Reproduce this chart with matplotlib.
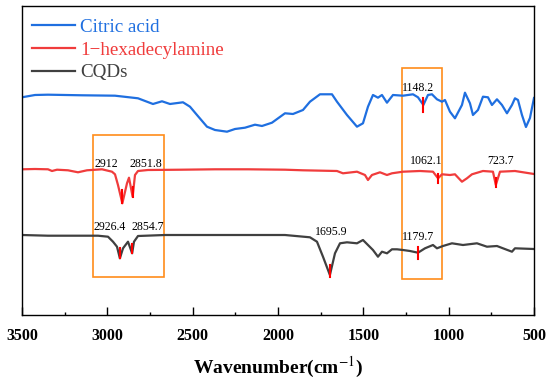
import matplotlib
matplotlib.use('Agg')
import matplotlib.pyplot as plt
from matplotlib.patches import Rectangle

plt.rcParams['font.family'] = ['Liberation Serif', 'DejaVu Serif']
plt.rcParams['mathtext.fontset'] = 'stix'

# citric acid
wn_ca = [3500, 3423.8, 3347.7, 3148.5, 2955.1, 2820.4, 2732.5, 2679.7, 2632.9, 2556.7,
         2515.7, 2474.7, 2416.1, 2369.2, 2298.9, 2252.0, 2193.4, 2134.9, 2093.8, 2035.2,
         1959.1, 1912.2, 1853.6, 1812.6, 1754.0, 1683.7, 1654.4, 1595.8, 1537.2, 1502.1,
         1472.8, 1443.5, 1414.2, 1390.8, 1361.5, 1326.3, 1267.7, 1209.1, 1179.8, 1148.2,
         1121.3, 1097.8, 1068.5, 1039.2, 1021.7, 992.4, 963.1, 922.1, 904.5, 875.2,
         857.6, 828.3, 799.0, 769.7, 746.3, 717.0, 687.7, 658.4, 629.1, 611.5,
         593.9, 570.5, 547.1, 523.6, 500]
t_ca = [217.7, 220, 220.3, 219.7, 219.3, 216.7, 211, 213.7, 211, 212.7,
        208.3, 200, 188.3, 185, 183.3, 186, 187.3, 190.3, 189, 192.3,
        201.7, 201, 205, 213.3, 220.7, 220.7, 213.3, 200, 188.3, 191.7,
        208.3, 220, 217.3, 220, 212.3, 220, 219.3, 220.7, 217.7, 210,
        220, 220.7, 215.7, 213.3, 215, 203.3, 196.7, 210, 222.3, 211.7,
        200, 205, 218.3, 217.7, 210, 215.7, 210, 201.7, 210, 216.7,
        215, 200, 188, 197, 217]

# 1-hexadecylamine
wn_hda = [3500, 3423.8, 3347.7, 3324.2, 3294.9, 3230.5, 3171.9, 3119.2, 3031.3, 2972.7,
          2955.1, 2937.6, 2912, 2884.8, 2873.1, 2851.8, 2837.9, 2820.4, 2761.8, 2562.6,
          2369.2, 2175.9, 1959.1, 1853.6, 1654.4, 1619.3, 1537.2, 1490.4, 1472.8, 1449.4,
          1402.5, 1361.5, 1332.2, 1267.7, 1168.1, 1091.9, 1062.1, 1039.2, 992.4, 963.1,
          922.1, 892.8, 863.4, 799.0, 740.4, 723.7, 699.4, 611.5, 500]
t_hda = [145.7, 146, 145.7, 144, 145.3, 144.7, 142.7, 144.7, 145.7, 143.3,
         140.7, 130, 111.7, 131.7, 137.3, 118.3, 140, 144, 145, 145.3,
         145.7, 145.7, 145.3, 144.7, 144, 141.7, 143.3, 140, 135, 140,
         142.7, 140, 141.7, 143.3, 144, 143.3, 136.7, 140.7, 140, 140.7,
         133.3, 136.7, 140.7, 144, 143.3, 130, 143.3, 144, 141]

# CQDs
wn_cqd = [3500, 3347.7, 3148.5, 3054.7, 2996.1, 2966.8, 2943.4, 2926.4, 2908.2, 2878.9,
          2854.7, 2843.8, 2820.4, 2662.2, 2369.2, 2175.9, 1959.1, 1812.6, 1771.6, 1736.4,
          1695.9, 1666.1, 1636.8, 1595.8, 1537.2, 1502.1, 1472.8, 1443.5, 1414.2, 1390.8,
          1361.5, 1332.2, 1302.9, 1267.7, 1226.7, 1179.7, 1138.7, 1091.9, 1068.5, 1033.4,
          980.6, 916.2, 834.2, 775.6, 717.0, 681.8, 629.1, 611.5, 500]
t_cqd = [80, 79.3, 79.3, 79.3, 78.3, 73.3, 68.3, 56.7, 66.7, 73.3,
         61.7, 73.3, 79, 80, 80, 80, 80, 77.7, 73.3, 58.3,
         40, 61.7, 71.7, 72.7, 71.7, 75, 70, 65, 58.3, 63.3,
         61.7, 65.7, 65.7, 65, 64, 62.3, 66.7, 70, 66.7, 69,
         71.7, 70, 71.7, 68.3, 69, 66.7, 63.3, 66.7, 66]

# peak marks: (wavenumber, y low, y high)
marks = [(1148.2, 203, 217),
         (2912, 112, 125), (2851.8, 118, 128), (1062.1, 132, 141), (723.7, 128, 137),
         (2926.4, 57, 67), (2854.7, 62, 71), (1695.9, 38, 50), (1179.7, 56, 68)]

# peak labels: (text, x, y)
labels = [('1148.2', 1179.8, 227),
          ('2912', 3003.7, 151), ('2851.8', 2773.5, 151),
          ('1062.1', 1128.8, 154.3), ('723.7', 693.6, 154.3),
          ('2926.4', 2984.4, 88.3), ('2854.7', 2764.7, 88.3),
          ('1695.9', 1685.4, 83.3), ('1179.7', 1176.9, 78)]

# highlight boxes: (x1, x2, y1, y2)
boxes = [(3084, 2668, 38, 180), (1273.6, 1039, 36, 247)]

blue = '#1f6fe0'
red = '#f03c3c'
dark = '#404040'
orange = '#ff8c1a'

fig = plt.figure(figsize=(5.5, 3.81), dpi=100)
ax = fig.add_axes([0.04, 0.1732, 0.9309, 0.8111])

ax.plot(wn_ca, t_ca, color=blue, lw=1.6, label='Citric acid')
ax.plot(wn_hda, t_hda, color=red, lw=1.6, label='1\u2212hexadecylamine')
ax.plot(wn_cqd, t_cqd, color=dark, lw=1.6, label='CQDs')

for x, y1, y2 in marks:
    ax.plot([x, x], [y1, y2], color='red', lw=1.5)

for s, x, y in labels:
    ax.text(x, y, s, fontsize=8.6, ha='center', va='center')

for x1, x2, y1, y2 in boxes:
    ax.add_patch(Rectangle((x2, y1), x1 - x2, y2 - y1, fill=False,
                           edgecolor=orange, lw=1.2))

ax.set_xlim(3500, 500)
ax.set_ylim(0, 309)
ax.set_yticks([])
ax.set_xticks([3500, 3000, 2500, 2000, 1500, 1000, 500])
ax.set_xticks([3250, 2750, 2250, 1750, 1250, 750], minor=True)
ax.tick_params(axis='x', which='major', direction='in', length=5.5, width=1,
               labelsize=11.5, pad=9.5)
ax.tick_params(axis='x', which='minor', direction='in', length=2.5, width=1)
for lab in ax.get_xticklabels():
    lab.set_fontweight('bold')
for sp in ax.spines.values():
    sp.set_linewidth(1.0)

ax.set_xlabel(r'Wavenumber(cm$^{-1}$)', fontsize=14, fontweight='bold', labelpad=8)

ax.legend(loc='upper left', bbox_to_anchor=(0.0, 0.99), frameon=False,
          fontsize=13.7, labelcolor='linecolor',
          handlelength=2.3, handletextpad=0.25, labelspacing=0.28,
          borderaxespad=0.3, borderpad=0.2)

fig.savefig('out.png', dpi=100)
